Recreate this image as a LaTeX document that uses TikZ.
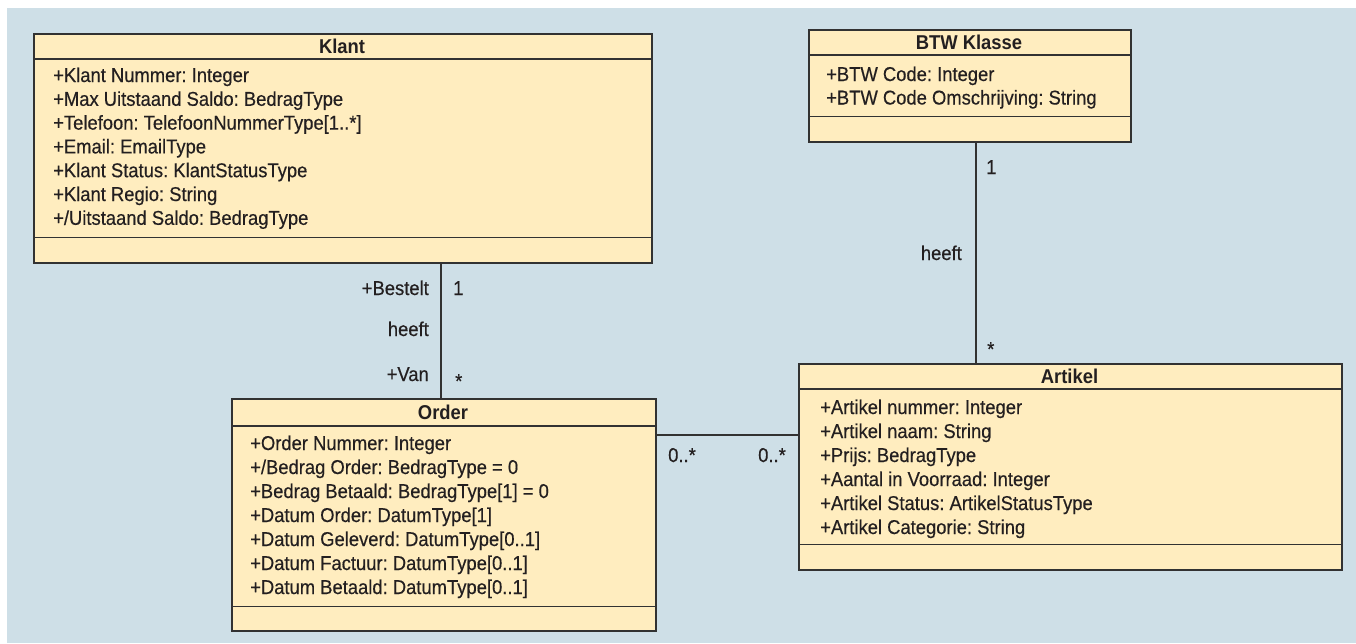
\documentclass[tikz,border=0pt]{standalone}
\usepackage{fontspec}
\newfontfamily\uml{Liberation Sans}[FakeStretch=0.92,FakeBold=0.4]
\newfontfamily\umlb{Liberation Sans Bold}[FakeStretch=0.92]
\definecolor{bgblue}{RGB}{206,223,231}
\definecolor{clsfill}{RGB}{255,237,191}
\definecolor{clsline}{RGB}{50,50,50}
\definecolor{txt}{RGB}{35,31,32}
\tikzset{
  cls/.style={draw=clsline, fill=clsfill, line width=1.7pt, anchor=north west, inner sep=0pt},
  sep/.style={draw=clsline, line width=1.3pt},
  conn/.style={draw=clsline, line width=1.2pt},
  ttl/.style={anchor=center, inner sep=0pt, font=\umlb\frenchspacing\fontsize{20}{22}\selectfont, text height=14pt, text depth=0pt, text=txt},
  attr/.style={anchor=west, inner sep=0pt, font=\uml\frenchspacing\fontsize{20}{22}\selectfont, text height=14pt, text depth=0pt, text=txt},
  lblr/.style={attr, anchor=east},
}
\begin{document}
\begin{tikzpicture}[x=1pt,y=-1pt]
\fill[white] (0,0) rectangle (1356,643);
\fill[bgblue] (7,8) rectangle (1356,643);
\useasboundingbox (0,0) rectangle (1356,643);

% Klant
\node[cls, minimum width=618pt, minimum height=229pt] (klant) at (33,33) {};
\draw[sep] ([yshift=-26pt]klant.north west) -- ([yshift=-26pt]klant.north east);
\draw[sep] ([yshift=26pt]klant.south west) -- ([yshift=26pt]klant.south east);
\node[ttl] (klantT) at (342,46) {Klant};
\node[attr] (k1) at (53,75) {+Klant Nummer: Integer};
\node[attr] (k2) at (53,98.8) {+Max Uitstaand Saldo: BedragType};
\node[attr] (k3) at (53,122.6) {+Telefoon: TelefoonNummerType[1..*]};
\node[attr] (k4) at (53,146.4) {+Email: EmailType};
\node[attr] (k5) at (53,170.2) {+Klant Status: KlantStatusType};
\node[attr] (k6) at (53,194) {+Klant Regio: String};
\node[attr] (k7) at (53,217.8) {+/Uitstaand Saldo: BedragType};

% BTW Klasse
\node[cls, minimum width=322pt, minimum height=112pt] (btw) at (808,29) {};
\draw[sep] ([yshift=-26pt]btw.north west) -- ([yshift=-26pt]btw.north east);
\draw[sep] ([yshift=26pt]btw.south west) -- ([yshift=26pt]btw.south east);
\node[ttl] (btwT) at (969,42) {BTW Klasse};
\node[attr] (b1) at (826,74) {+BTW Code: Integer};
\node[attr] (b2) at (826,97.5) {+BTW Code Omschrijving: String};

% Order
\node[cls, minimum width=424pt, minimum height=232pt] (order) at (231,398) {};
\draw[sep] ([yshift=-28pt]order.north west) -- ([yshift=-28pt]order.north east);
\draw[sep] ([yshift=25pt]order.south west) -- ([yshift=25pt]order.south east);
\node[ttl] (orderT) at (443,412) {Order};
\node[attr] (o1) at (250,443) {+Order Nummer: Integer};
\node[attr] (o2) at (250,467) {+/Bedrag Order: BedragType = 0};
\node[attr] (o3) at (250,491) {+Bedrag Betaald: BedragType[1] = 0};
\node[attr] (o4) at (250,515) {+Datum Order: DatumType[1]};
\node[attr] (o5) at (250,539) {+Datum Geleverd: DatumType[0..1]};
\node[attr] (o6) at (250,563) {+Datum Factuur: DatumType[0..1]};
\node[attr] (o7) at (250,587) {+Datum Betaald: DatumType[0..1]};

% Artikel
\node[cls, minimum width=543pt, minimum height=206pt] (artikel) at (798,363) {};
\draw[sep] ([yshift=-26pt]artikel.north west) -- ([yshift=-26pt]artikel.north east);
\draw[sep] ([yshift=26pt]artikel.south west) -- ([yshift=26pt]artikel.south east);
\node[ttl] (artikelT) at (1069.5,376) {Artikel};
\node[attr] (a1) at (820,407) {+Artikel nummer: Integer};
\node[attr] (a2) at (820,431) {+Artikel naam: String};
\node[attr] (a3) at (820,455) {+Prijs: BedragType};
\node[attr] (a4) at (820,479) {+Aantal in Voorraad: Integer};
\node[attr] (a5) at (820,503) {+Artikel Status: ArtikelStatusType};
\node[attr] (a6) at (820,527) {+Artikel Categorie: String};

% connectors
\coordinate (kx) at (441,0);
\coordinate (bx) at (976,0);
\coordinate (oy) at (0,435);
\draw[conn] (kx |- klant.south) -- (kx |- order.north);
\draw[conn] (bx |- btw.south) -- (bx |- artikel.north);
\draw[conn] (order.east |- oy) -- (artikel.west |- oy);

% labels
\node[lblr] (lb1) at (429,288) {+Bestelt};
\node[lblr] (lb2) at (429,329) {heeft};
\node[lblr] (lb3) at (429,374) {+Van};
\node[attr] (lb4) at (453,288) {1};
\node[attr] (lb5) at (455,381) {*};
\node[attr] (lb6) at (986,167) {1};
\node[lblr] (lb7) at (962,253) {heeft};
\node[attr] (lb8) at (987,349) {*};
\node[attr] (lb9) at (668,455) {0..*};
\node[attr] (lb10) at (758,455) {0..*};
\end{tikzpicture}
\end{document}
